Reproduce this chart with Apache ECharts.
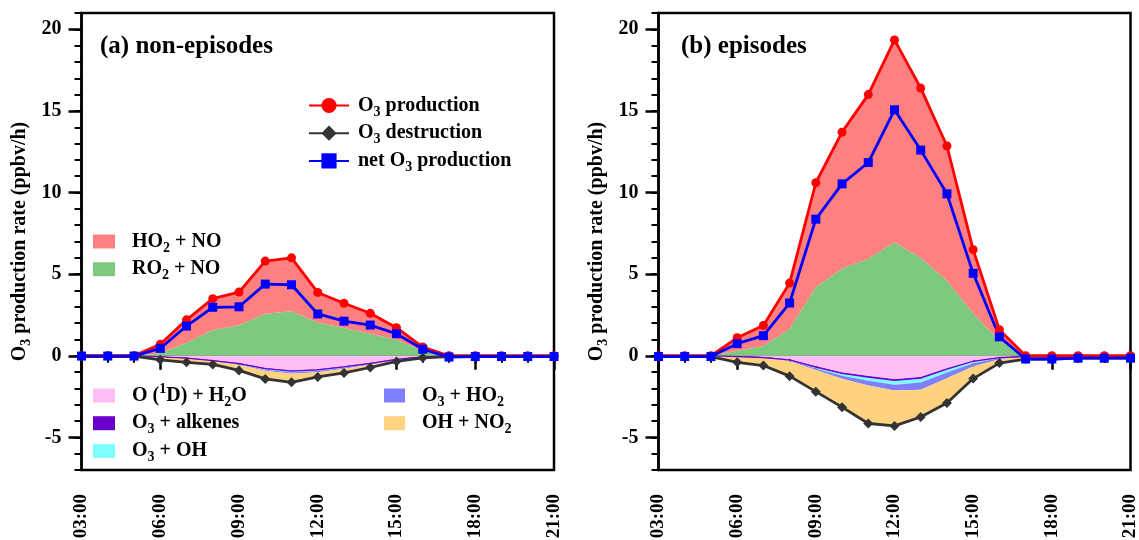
<!DOCTYPE html>
<html>
<head>
<meta charset="utf-8">
<script src="https://cdn.jsdelivr.net/npm/echarts@6/dist/echarts.min.js"></script>
<style>
  html, body { margin: 0; padding: 0; background: #fff; }
  #chart { width: 1139px; height: 540px; }
</style>
</head>
<body>
<div id="chart"></div>
<script>
// Hourly O3 budget, 03:00 - 21:00 (ppbv/h)
const hours = ['03:00','04:00','05:00','06:00','07:00','08:00','09:00','10:00','11:00','12:00',
               '13:00','14:00','15:00','16:00','17:00','18:00','19:00','20:00','21:00'];

// (a) non-episodes
const prodA  = [0, 0, 0, 0.7, 2.2, 3.5, 3.9, 5.8, 6.0, 3.88, 3.22, 2.6, 1.72, 0.53, 0, 0, 0, 0, 0];
const destA  = [-0.02, -0.02, -0.02, -0.25, -0.4, -0.53, -0.9, -1.42, -1.63, -1.3, -1.05, -0.72, -0.35, -0.13, -0.05, -0.05, -0.05, -0.05, -0.05];
const netA   = [-0.02, -0.02, -0.02, 0.45, 1.82, 2.97, 3.0, 4.39, 4.35, 2.56, 2.12, 1.88, 1.35, 0.4, -0.08, -0.05, -0.05, -0.05, -0.05];
const ro2A   = [0, 0, 0, 0.15, 0.8, 1.58, 1.87, 2.58, 2.72, 2.03, 1.7, 1.35, 0.98, 0.3, 0, 0, 0, 0, 0];
const ho2A   = [0, 0, 0, 0.55, 1.4, 1.92, 2.03, 3.22, 3.28, 1.85, 1.52, 1.25, 0.74, 0.23, 0, 0, 0, 0, 0];
const o1dA   = [0, 0, 0, -0.05, -0.13, -0.28, -0.45, -0.75, -0.9, -0.82, -0.65, -0.45, -0.2, -0.05, 0, 0, 0, 0, 0];
const alkA   = [0, 0, 0, -0.01, -0.02, -0.02, -0.03, -0.04, -0.04, -0.04, -0.03, -0.02, -0.02, -0.01, 0, 0, 0, 0, 0];
const ohA    = [0, 0, 0, 0, -0.01, -0.02, -0.04, -0.07, -0.08, -0.08, -0.06, -0.04, -0.02, -0.01, 0, 0, 0, 0, 0];
const o3ho2A = [0, 0, 0, 0, -0.01, -0.02, -0.04, -0.06, -0.08, -0.07, -0.06, -0.04, -0.03, -0.01, 0, 0, 0, 0, 0];
const no2A   = [-0.02, -0.02, -0.02, -0.19, -0.23, -0.19, -0.34, -0.5, -0.53, -0.29, -0.25, -0.17, -0.08, -0.05, -0.05, -0.05, -0.05, -0.05, -0.05];

// (b) episodes
const prodB  = [0, 0, 0, 1.1, 1.85, 4.45, 10.6, 13.7, 16.0, 19.35, 16.4, 12.85, 6.5, 1.6, 0, 0, 0, 0, 0];
const destB  = [-0.05, -0.05, -0.05, -0.4, -0.6, -1.25, -2.2, -3.15, -4.15, -4.3, -3.75, -2.9, -1.4, -0.45, -0.2, -0.2, -0.15, -0.15, -0.15];
const netB   = [-0.05, -0.05, -0.05, 0.74, 1.23, 3.23, 8.37, 10.53, 11.84, 15.07, 12.6, 9.92, 5.05, 1.16, -0.2, -0.2, -0.15, -0.15, -0.15];
const ro2B   = [0, 0, 0, 0.3, 0.6, 1.65, 4.2, 5.35, 5.95, 6.95, 6.0, 4.6, 2.6, 0.9, 0, 0, 0, 0, 0];
const ho2B   = [0, 0, 0, 0.8, 1.25, 2.8, 6.4, 8.35, 10.05, 12.4, 10.4, 8.25, 3.9, 0.7, 0, 0, 0, 0, 0];
const o1dB   = [0, 0, 0, -0.03, -0.08, -0.22, -0.65, -1.02, -1.24, -1.44, -1.3, -0.77, -0.3, -0.1, -0.03, 0, 0, 0, 0];
const alkB   = [0, 0, 0, -0.02, -0.03, -0.04, -0.05, -0.06, -0.07, -0.07, -0.07, -0.06, -0.04, -0.02, -0.01, 0, 0, 0, 0];
const ohB    = [0, 0, 0, 0, -0.01, -0.03, -0.08, -0.15, -0.22, -0.27, -0.27, -0.2, -0.12, -0.03, 0, 0, 0, 0, 0];
const o3ho2B = [0, 0, 0, 0, -0.02, -0.05, -0.1, -0.18, -0.3, -0.35, -0.45, -0.35, -0.2, -0.06, -0.01, 0, 0, 0, 0];
const no2B   = [-0.05, -0.05, -0.05, -0.35, -0.46, -0.91, -1.32, -1.74, -2.32, -2.17, -1.66, -1.52, -0.74, -0.24, -0.15, -0.2, -0.15, -0.15, -0.15];

const yMajorTicks = [-5, 0, 5, 10, 15, 20];
const panelTitles = ['(a) non-episodes', '(b) episodes'];

const FONT = '"Liberation Serif", "Times New Roman", serif';
const COLORS = {
  ho2no: '#FF8080', ro2no: '#7DC97D',
  o1d: '#FFBEF4', alk: '#6A00CC', oh: '#80FFFF', o3ho2: '#8080FF', no2: '#FFD280',
  prod: '#FF0000', dest: '#333333', net: '#0000FF'
};

const NAMES = {
  ho2no: 'HO2 + NO', ro2no: 'RO2 + NO', o1d: 'O(1D) + H2O', alk: 'O3 + alkenes',
  oh: 'O3 + OH', o3ho2: 'O3 + HO2', no2: 'OH + NO2',
  prod: 'O3 production', dest: 'O3 destruction', net: 'net O3 production'
};

// rich-text labels with sub/superscripts
const LABELS = {
  'HO2 + NO': '{g|}{a|HO}{s|2}{a| + NO}',
  'RO2 + NO': '{g|}{a|RO}{s|2}{a| + NO}',
  'O(1D) + H2O': '{g|}{a|O (}{p|1}{a|D) + H}{s|2}{a|O}',
  'O3 + alkenes': '{g|}{a|O}{s|3}{a| + alkenes}',
  'O3 + OH': '{g|}{a|O}{s|3}{a| + OH}',
  'O3 + HO2': '{g|}{a|O}{s|3}{a| + HO}{s|2}',
  'OH + NO2': '{g|}{a|OH + NO}{s|2}',
  'O3 production': '{h|}{a|O}{s|3}{a| production}',
  'O3 destruction': '{h|}{a|O}{s|3}{a| destruction}',
  'net O3 production': '{h|}{a|net O}{s|3}{a| production}'
};

// subscripts are pushed down / superscripts up by asymmetric padding
const SUB = { fontFamily: FONT, fontWeight: 'bold', fontSize: 14, lineHeight: 12, padding: [13, 0, 0, 0], color: '#000' };
const SUP = { fontFamily: FONT, fontWeight: 'bold', fontSize: 14, lineHeight: 12, padding: [0, 0, 13, 0], color: '#000' };

const rich = {
  a: { fontFamily: FONT, fontWeight: 'bold', fontSize: 20, lineHeight: 22, color: '#000' },
  s: SUB,
  p: SUP,
  g: { width: 12 },
  h: { width: 4 }
};

const GRIDS = [
  { left: 81.5, top: 13, width: 472.5, height: 457 },
  { left: 658.5, top: 13, width: 472, height: 457 }
];

function makeAxes(gi) {
  const x = [
    {
      type: 'category', gridIndex: gi, data: hours, boundaryGap: false, position: 'bottom', offset: 0,
      axisLine: { show: true, lineStyle: { color: '#000', width: 2.5 } },
      axisTick: { show: true, interval: 0, length: 7, lineStyle: { color: '#000', width: 2 } },
      axisLabel: { interval: 2, rotate: 90, margin: 24, fontSize: 19, fontWeight: 'bold', fontFamily: FONT, color: '#000' },
      splitLine: { show: false }
    },
    {
      type: 'category', gridIndex: gi, data: hours, boundaryGap: false, position: 'bottom', offset: 0,
      axisLine: { show: false },
      axisTick: { show: true, interval: 2, length: 14, lineStyle: { color: '#000', width: 2.5 } },
      axisLabel: { show: false },
      splitLine: { show: false }
    }
  ];
  const y = [
    {
      type: 'value', gridIndex: gi, min: -7, max: 21, interval: 1, position: 'left', offset: 0,
      name: '{a|O}{s|3}{a| production rate (ppbv/h)}',
      nameLocation: 'middle', nameGap: 51,
      nameTextStyle: { rich: {
        a: { fontFamily: FONT, fontWeight: 'bold', fontSize: 20, lineHeight: 22, color: '#000' },
        s: SUB
      } },
      axisLine: { show: true, lineStyle: { color: '#000', width: 2.5 } },
      axisTick: { show: true, length: 13, customValues: yMajorTicks, lineStyle: { color: '#000', width: 2.5 } },
      axisLabel: { customValues: yMajorTicks, margin: 20, fontSize: 20, fontWeight: 'bold', fontFamily: FONT, color: '#000' },
      splitLine: { show: false }
    },
    {
      type: 'value', gridIndex: gi, min: -7, max: 21, interval: 1, position: 'left', offset: 0,
      axisLine: { show: false },
      axisTick: { show: true, length: 7, lineStyle: { color: '#000', width: 2 } },
      axisLabel: { show: false },
      splitLine: { show: false }
    }
  ];
  return { x, y };
}

function areaSeries(gi, key, data, stack) {
  return {
    name: NAMES[key], type: 'line', xAxisIndex: gi * 2, yAxisIndex: gi * 2,
    stack: stack + gi, data, symbol: 'none', showSymbol: false, silent: true,
    color: COLORS[key],
    lineStyle: key === 'alk' ? { width: 1.2, color: COLORS.alk } : { width: 0 },
    areaStyle: { color: COLORS[key], opacity: 1 },
    emphasis: { disabled: true }
  };
}

function lineSeries(gi, key, data, symbol, size) {
  return {
    name: NAMES[key], type: 'line', xAxisIndex: gi * 2, yAxisIndex: gi * 2,
    data, symbol, symbolSize: size, showAllSymbol: true, silent: true,
    color: COLORS[key],
    lineStyle: { width: 2.8, color: COLORS[key] },
    itemStyle: { color: COLORS[key] },
    emphasis: { disabled: true }
  };
}

const panels = [
  { prod: prodA, dest: destA, net: netA, ro2: ro2A, ho2: ho2A, o1d: o1dA, alk: alkA, oh: ohA, o3ho2: o3ho2A, no2: no2A },
  { prod: prodB, dest: destB, net: netB, ro2: ro2B, ho2: ho2B, o1d: o1dB, alk: alkB, oh: ohB, o3ho2: o3ho2B, no2: no2B }
];

const xAxes = [], yAxes = [], series = [];
panels.forEach((p, gi) => {
  const ax = makeAxes(gi);
  xAxes.push(...ax.x);
  yAxes.push(...ax.y);
  series.push(
    areaSeries(gi, 'ro2no', p.ro2, 'pos'),
    areaSeries(gi, 'ho2no', p.ho2, 'pos'),
    areaSeries(gi, 'o1d', p.o1d, 'neg'),
    areaSeries(gi, 'alk', p.alk, 'neg'),
    areaSeries(gi, 'oh', p.oh, 'neg'),
    areaSeries(gi, 'o3ho2', p.o3ho2, 'neg'),
    areaSeries(gi, 'no2', p.no2, 'neg'),
    lineSeries(gi, 'prod', p.prod, 'circle', 9),
    lineSeries(gi, 'dest', p.dest, 'diamond', 10),
    lineSeries(gi, 'net', p.net, 'rect', 9)
  );
});

function legendBlock(names, left, top, icon, w, h) {
  return {
    orient: 'vertical', left, top, padding: 0, itemGap: 0.7,
    itemWidth: w, itemHeight: h, selectedMode: false,
    data: names.map(n => icon ? { name: n, icon } : { name: n }),
    formatter: n => LABELS[n],
    textStyle: { rich }
  };
}

const option = {
  animation: false,
  backgroundColor: '#fff',
  title: panelTitles.map((t, i) => ({
    text: t, left: i === 0 ? 100 : 681, top: 34, padding: 0,
    textStyle: { fontFamily: FONT, fontWeight: 'bold', fontSize: 25, color: '#000' }
  })),
  grid: GRIDS.map(g => Object.assign({
    show: true, borderColor: '#000', borderWidth: 2.5, backgroundColor: '#fff',
    outerBoundsMode: 'none', containLabel: false
  }, g)),
  legend: [
    legendBlock([NAMES.prod, NAMES.dest, NAMES.net], 308, 92, null, 40, 19),
    legendBlock([NAMES.ho2no, NAMES.ro2no], 93, 228, 'rect', 22, 14),
    legendBlock([NAMES.o1d, NAMES.alk, NAMES.oh], 93, 382, 'rect', 22, 14),
    legendBlock([NAMES.o3ho2, NAMES.no2], 384, 382, 'rect', 21, 14)
  ],
  xAxis: xAxes,
  yAxis: yAxes,
  series
};

const chart = echarts.init(document.getElementById('chart'), null, { renderer: 'canvas' });
chart.setOption(option);
</script>
</body>
</html>
